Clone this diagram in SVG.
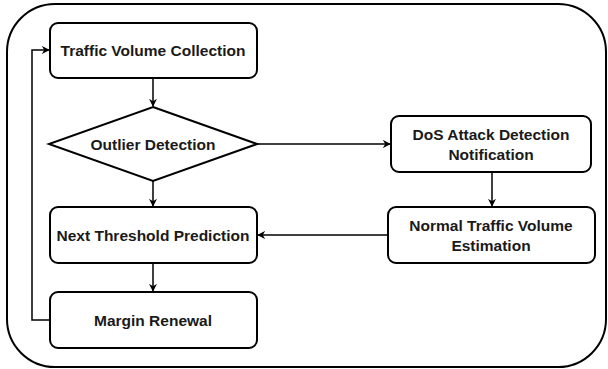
<svg xmlns="http://www.w3.org/2000/svg" width="608" height="369" viewBox="0 0 608 369">
<defs>
<style>
.box{fill:#fff;stroke:#000;stroke-width:2}
.frame{fill:#fff;stroke:#000;stroke-width:2}
.lbl{font-family:"Liberation Sans",Arial,sans-serif;font-weight:bold;font-size:15.5px;fill:#1a1a1a;text-anchor:middle;dominant-baseline:central}
.edge{fill:none;stroke:#000;stroke-width:1.5}
</style>
<marker id="arr" viewBox="0 0 10 10" refX="9" refY="5" markerWidth="8" markerHeight="8" markerUnits="userSpaceOnUse" orient="auto">
<path d="M0,0 L10,5 L0,10 L3,5 Z" fill="#000"/>
</marker>
</defs>
<rect class="frame" x="7" y="4" width="599" height="363" rx="48" ry="48"/>
<g id="edges">
<path class="edge" d="M153,78 V106" marker-end="url(#arr)"/>
<path class="edge" d="M153,181 V206" marker-end="url(#arr)"/>
<path class="edge" d="M153,263 V291" marker-end="url(#arr)"/>
<path class="edge" d="M50,320 H32 V50 H49" marker-end="url(#arr)"/>
<path class="edge" d="M257,144 H390" marker-end="url(#arr)"/>
<path class="edge" d="M492,172 V206" marker-end="url(#arr)"/>
<path class="edge" d="M388,235 H258" marker-end="url(#arr)"/>
</g>
<g id="n1"><rect class="box" x="50" y="23" width="207" height="55" rx="8"/><text class="lbl" x="153" y="50.5">Traffic Volume Collection</text></g>
<g id="n2"><polygon class="box" points="153,107 257,144 153,181 49,144"/><text class="lbl" x="153" y="144">Outlier Detection</text></g>
<g id="n3"><rect class="box" x="50" y="207" width="207" height="56" rx="8"/><text class="lbl" x="153" y="235">Next Threshold Prediction</text></g>
<g id="n4"><rect class="box" x="50" y="292" width="207" height="56" rx="8"/><text class="lbl" x="153" y="320">Margin Renewal</text></g>
<g id="n5"><rect class="box" x="391" y="116" width="200" height="56" rx="8"/><text class="lbl" x="491" y="134">DoS Attack Detection</text><text class="lbl" x="491" y="154">Notification</text></g>
<g id="n6"><rect class="box" x="388" y="207" width="207" height="56" rx="8"/><text class="lbl" x="491" y="225">Normal Traffic Volume</text><text class="lbl" x="491" y="245">Estimation</text></g>
</svg>
